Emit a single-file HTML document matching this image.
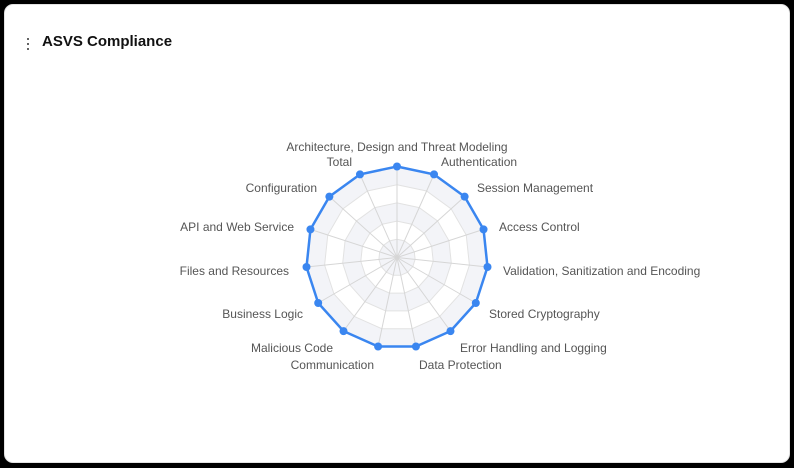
<!DOCTYPE html>
<html><head><meta charset="utf-8"><style>
html,body{margin:0;padding:0;background:#000;width:794px;height:468px;overflow:hidden}
.card{position:absolute;left:4px;top:4px;width:784px;height:457px;background:#fff;border:1px solid #e3e3e3;border-radius:9px}
.title{position:absolute;left:42px;top:33px;font:bold 15px "Liberation Sans",sans-serif;color:#111}
.dots{position:absolute;left:27px;top:38px;width:3px}
.dots i{display:block;width:2px;height:2px;background:#333;border-radius:1px;margin-bottom:3px}
svg{position:absolute;left:0;top:0}
text{font:12px "Liberation Sans",sans-serif;fill:#555;dominant-baseline:middle}
</style></head><body>
<div class="card"></div>
<div class="dots"><i></i><i></i><i></i></div>
<div class="title">ASVS Compliance</div>
<svg id="s" width="794" height="468">
<g id="g"></g>
<g transform="translate(0,2)">
<text x="397" y="146" text-anchor="middle">Architecture, Design and Threat Modeling</text>
<text x="352" y="161" text-anchor="end">Total</text>
<text x="441" y="161">Authentication</text>
<text x="477" y="187">Session Management</text>
<text x="499" y="226">Access Control</text>
<text x="503" y="270">Validation, Sanitization and Encoding</text>
<text x="489" y="313">Stored Cryptography</text>
<text x="460" y="347">Error Handling and Logging</text>
<text x="419" y="364">Data Protection</text>
<text x="374" y="364" text-anchor="end">Communication</text>
<text x="333" y="347" text-anchor="end">Malicious Code</text>
<text x="303" y="313" text-anchor="end">Business Logic</text>
<text x="289" y="270" text-anchor="end">Files and Resources</text>
<text x="294" y="226" text-anchor="end">API and Web Service</text>
<text x="317" y="187" text-anchor="end">Configuration</text>
</g>
</svg>
<script>
var cx=397,cy=257.5,R=91,n=15,h='';
function pt(r,i){var a=i*2*Math.PI/n;return [cx+r*Math.sin(a),cy-r*Math.cos(a)];}
function poly(r){var p=[];for(var i=0;i<n;i++)p.push(pt(r,i).join(','));return p.join(' ');}
var fills=['#f3f4f8','#fff','#f3f4f8','#fff','#f3f4f8'];
for(var k=5;k>=1;k--){h+='<polygon points="'+poly(R*k/5)+'" fill="'+fills[5-k]+'" stroke="#e2e2e2" stroke-width="1"/>';}
for(var i=0;i<n;i++){var p=pt(R,i);h+='<line x1="'+cx+'" y1="'+cy+'" x2="'+p[0]+'" y2="'+p[1]+'" stroke="#d6d6d6" stroke-width="1"/>';}
h+='<polygon points="'+poly(R)+'" fill="none" stroke="#3a86f0" stroke-width="2.5"/>';
for(var i=0;i<n;i++){var p=pt(R,i);h+='<circle cx="'+p[0]+'" cy="'+p[1]+'" r="4" fill="#3a86f0"/>';}
document.getElementById('g').innerHTML=h;
</script>
</body></html>
